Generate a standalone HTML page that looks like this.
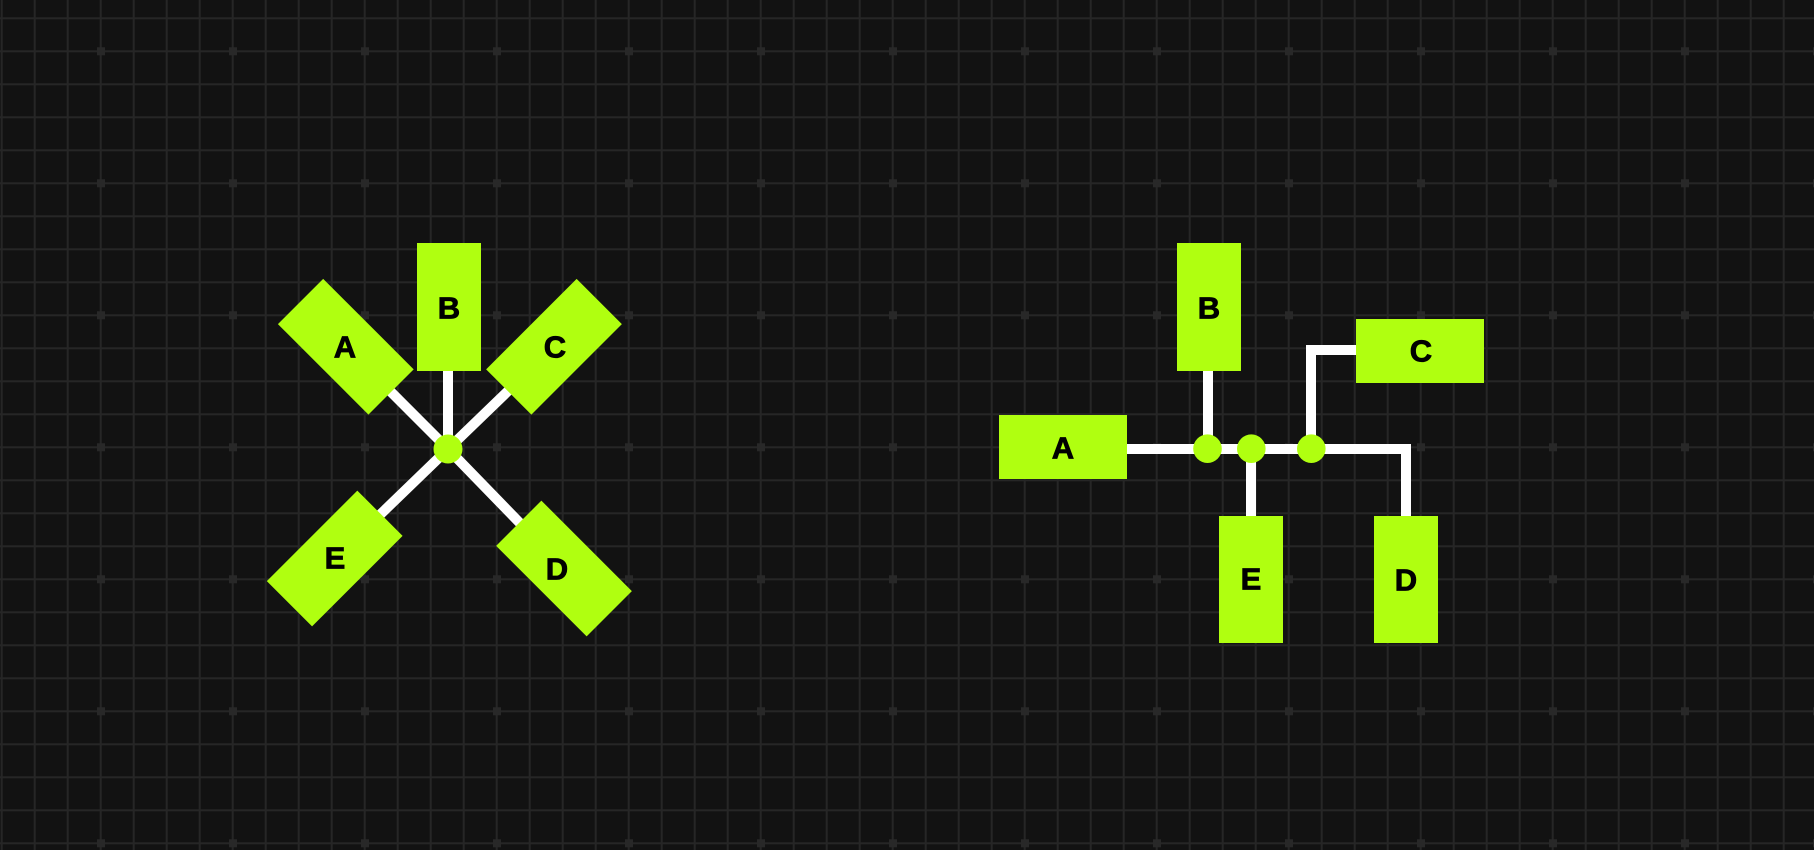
<!DOCTYPE html>
<html><head><meta charset="utf-8"><style>
html,body{margin:0;padding:0;background:#121212;}
svg{display:block}
text{font-family:"Liberation Sans",sans-serif;font-weight:bold;font-size:31px;fill:#000;stroke:#000;stroke-width:0.8;text-anchor:middle;dominant-baseline:central}
</style></head><body>
<svg width="1814" height="850" viewBox="0 0 1814 850">
<defs>
<pattern id="grid" patternUnits="userSpaceOnUse" x="0.7" y="17.3" width="33" height="33">
<rect x="0" y="0" width="2" height="33" fill="#262626"/>
<rect x="0" y="0" width="33" height="2" fill="#262626"/>
</pattern>
<pattern id="dots" patternUnits="userSpaceOnUse" x="97" y="47.3" width="132" height="132">
<rect x="0" y="0" width="8" height="8" fill="#282828"/>
</pattern>
</defs>
<rect width="1814" height="850" fill="#121212"/>
<rect width="1814" height="850" fill="url(#grid)"/>
<rect width="1814" height="850" fill="url(#dots)"/>

<g>
<g stroke="#fff" stroke-width="10">
<line x1="448" y1="449" x2="345.8" y2="346.7"/>
<line x1="448" y1="449" x2="448" y2="306"/>
<line x1="448" y1="449" x2="554" y2="346.7"/>
<line x1="448" y1="449" x2="564" y2="568.5"/>
<line x1="448" y1="449" x2="334.7" y2="558.5"/>
</g>
<g fill="#b0ff10">
<rect x="-32" y="-64" width="64" height="128" transform="translate(345.8,346.7) rotate(-45)"/>
<rect x="417" y="243" width="64" height="128"/>
<rect x="-32" y="-64" width="64" height="128" transform="translate(554,346.7) rotate(45)"/>
<rect x="-32" y="-64" width="64" height="128" transform="translate(564,568.5) rotate(-45)"/>
<rect x="-32" y="-64" width="64" height="128" transform="translate(334.7,558.5) rotate(45)"/>
<circle cx="448" cy="449" r="14.5"/>
</g>
<text x="345" y="347">A</text>
<text x="449" y="308">B</text>
<text x="555" y="347">C</text>
<text x="557" y="569">D</text>
<text x="335" y="558">E</text>
</g>

<g>
<g stroke="#fff" stroke-width="10" fill="none">
<line x1="1126" y1="449" x2="1311" y2="449"/>
<line x1="1208" y1="370" x2="1208" y2="449"/>
<line x1="1251" y1="449" x2="1251" y2="517"/>
<polyline points="1311,449 1311,350 1357,350"/>
<polyline points="1311,449 1406,449 1406,517"/>
</g>
<g fill="#b0ff10">
<rect x="999" y="415" width="128" height="64"/>
<rect x="1177" y="243" width="64" height="128"/>
<rect x="1356" y="319" width="128" height="64"/>
<rect x="1374" y="516" width="64" height="127"/>
<rect x="1219" y="516" width="64" height="127"/>
<circle cx="1207.5" cy="448.7" r="14.3"/>
<circle cx="1251.3" cy="448.7" r="14.3"/>
<circle cx="1311.3" cy="448.7" r="14.3"/>
</g>
<text x="1063" y="448">A</text>
<text x="1209" y="308">B</text>
<text x="1421" y="351">C</text>
<text x="1406" y="580">D</text>
<text x="1251" y="579">E</text>
</g>
</svg>
</body></html>
